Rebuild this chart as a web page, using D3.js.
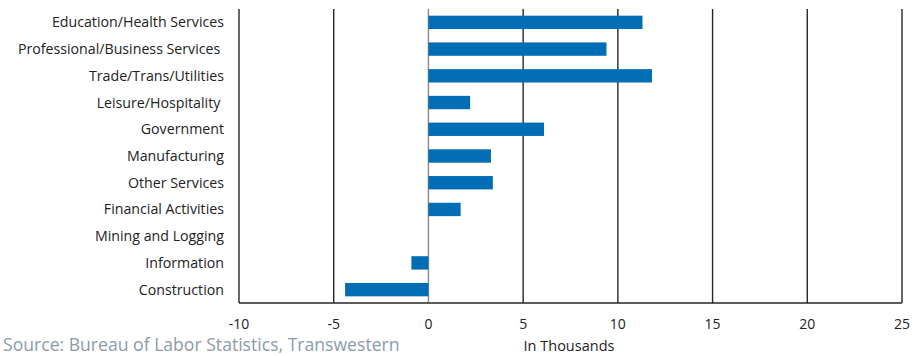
<!DOCTYPE html>
<html>
<head>
<meta charset="utf-8">
<script src="https://cdn.jsdelivr.net/npm/d3@7"></script>
<style>
  html, body { margin: 0; padding: 0; background: #fff; }
  svg { display: block; font-family: "Open Sans", sans-serif; }
  text { white-space: pre; }
</style>
</head>
<body>
<svg id="chart" width="923" height="356"></svg>
<script>
// Job change by industry sector, in thousands
const sectors = [
  "Education/Health Services",
  "Professional/Business Services ",
  "Trade/Trans/Utilities",
  "Leisure/Hospitality ",
  "Government",
  "Manufacturing",
  "Other Services",
  "Financial Activities",
  "Mining and Logging",
  "Information",
  "Construction"
];
const jobChange = [11.3, 9.4, 11.8, 2.2, 6.1, 3.3, 3.4, 1.7, 0, -0.9, -4.4];
const xTicks = [-10, -5, 0, 5, 10, 15, 20, 25];

const svg = d3.select("#chart");
const margin = { top: 9, right: 21, bottom: 53, left: 239 };
const width = 923 - margin.left - margin.right;
const height = 356 - margin.top - margin.bottom;

const x = d3.scaleLinear().domain([-10, 25]).range([0, width]);
const y = d3.scaleBand().domain(sectors).range([0, height]).paddingInner(0.5).paddingOuter(0.25);

const g = svg.append("g").attr("transform", `translate(${margin.left},${margin.top})`);

// vertical gridlines
g.selectAll("line.grid")
  .data(xTicks)
  .join("line")
  .attr("class", "grid")
  .attr("x1", d => x(d)).attr("x2", d => x(d))
  .attr("y1", 0).attr("y2", height)
  .attr("stroke", d => d === 0 ? "#8a8a8a" : "#262626")
  .attr("stroke-width", 1.4);

// bars
const data = sectors.map((s, i) => ({ sector: s, value: jobChange[i] }));
g.selectAll("rect.bar")
  .data(data)
  .join("rect")
  .attr("class", "bar")
  .attr("x", d => x(Math.min(0, d.value)))
  .attr("width", d => Math.abs(x(d.value) - x(0)))
  .attr("y", d => y(d.sector))
  .attr("height", y.bandwidth())
  .attr("fill", "#006db5");

// bottom axis line
g.append("line")
  .attr("x1", 0).attr("x2", width)
  .attr("y1", height).attr("y2", height)
  .attr("stroke", "#262626").attr("stroke-width", 1.4);

// x tick labels
g.selectAll("text.xtick")
  .data(xTicks)
  .join("text")
  .attr("class", "xtick")
  .attr("x", d => x(d))
  .attr("y", height + 25.5)
  .attr("text-anchor", "middle")
  .attr("font-size", 14)
  .attr("fill", "#222")
  .text(d => d);

// category labels
g.selectAll("text.ylab")
  .data(sectors)
  .join("text")
  .attr("class", "ylab")
  .attr("x", -15)
  .attr("y", d => y(d) + y.bandwidth() / 2)
  .attr("dy", "0.35em")
  .attr("text-anchor", "end")
  .attr("font-size", 14.2)
  .attr("fill", "#222")
  .text(d => d);

// axis title
svg.append("text")
  .attr("x", 569)
  .attr("y", 351)
  .attr("text-anchor", "middle")
  .attr("font-size", 14.5)
  .attr("fill", "#222")
  .text("In Thousands");

// source note
svg.append("text")
  .attr("x", 3)
  .attr("y", 351)
  .attr("font-size", 17.6)
  .attr("fill", "#8c9ba8")
  .text("Source: Bureau of Labor Statistics, Transwestern");
</script>
</body>
</html>
